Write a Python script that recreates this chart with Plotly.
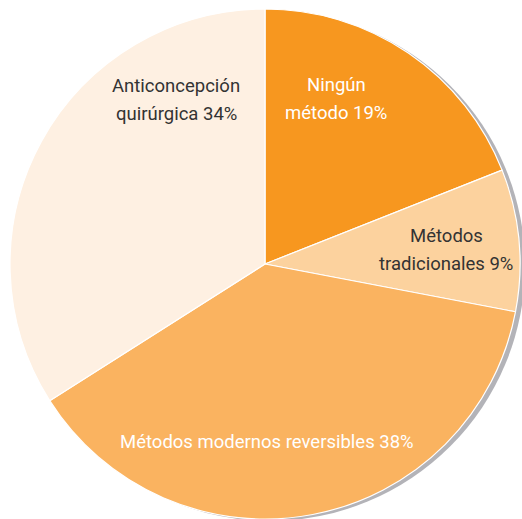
import plotly.graph_objects as go

labels = ["Ningún método", "Métodos tradicionales", "Métodos modernos reversibles", "Anticoncepción quirúrgica"]
values = [19, 9, 38, 34]
colors = ["#F7971F", "#FCD29E", "#FAB360", "#FEF0E2"]
text_colors = ["white", "#333333", "white", "#333333"]
label_lines = [["Ningún", "método 19%"], ["Métodos", "tradicionales 9%"],
               ["Métodos modernos reversibles 38%"], ["Anticoncepción", "quirúrgica 34%"]]
label_px = [(336, 99), (446, 250), (267, 442), (176, 100)]

W, H = 522, 519
FONT = "Roboto, sans-serif"

fig = go.Figure()
fig.add_trace(go.Pie(
    labels=labels, values=values, sort=False, direction="clockwise", rotation=0,
    marker=dict(colors=colors, line=dict(color="white", width=1.2)),
    textinfo="none", hoverinfo="label+percent", showlegend=False,
    domain=dict(x=[10 / W, 520 / W], y=[0, 1 - 9 / H]),
))

# drop shadow
fig.add_shape(type="circle", xref="paper", yref="paper", layer="below",
              x0=15 / W, x1=525 / W, y0=1 - 521 / H, y1=1 - 11 / H,
              fillcolor="#B3B3B8", line=dict(width=0))

LH = 28
for lines, (px, py), col in zip(label_lines, label_px, text_colors):
    n = len(lines)
    for i, ln in enumerate(lines):
        y = py + (i - (n - 1) / 2) * LH
        fig.add_annotation(x=px / W, y=1 - y / H, xref="paper", yref="paper",
                           text=ln, showarrow=False, xanchor="center", yanchor="middle",
                           font=dict(family=FONT, size=18.5, color=col))

fig.update_layout(width=W, height=H, margin=dict(l=0, r=0, t=0, b=0),
                  paper_bgcolor="white", plot_bgcolor="white")
fig.write_html("out.html", config={"displayModeBar": False},
               post_script="document.body.style.margin='0';document.body.style.overflow='hidden';")
